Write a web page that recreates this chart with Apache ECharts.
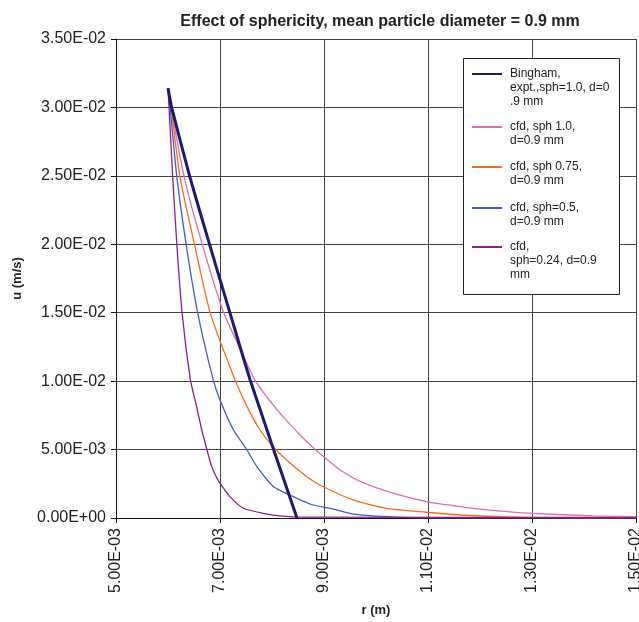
<!DOCTYPE html>
<html>
<head>
<meta charset="utf-8">
<script src="https://cdn.jsdelivr.net/npm/echarts@6/dist/echarts.min.js"></script>
<style>
html,body{margin:0;padding:0;background:#fff;}
#chart{width:639px;height:622px;}
</style>
</head>
<body>
<div id="chart"></div>
<script>
// ---- data (r in m, u in m/s) ----
const seriesNames = [
  'Bingham,\nexpt.,sph=1.0, d=0\n.9 mm',
  'cfd, sph 1.0,\nd=0.9 mm',
  'cfd, sph 0.75,\nd=0.9 mm',
  'cfd, sph=0.5,\nd=0.9 mm',
  'cfd,\nsph=0.24, d=0.9\nmm'
];
const rBingham = [0.00600, 0.00607, 0.00642, 0.00680, 0.00719, 0.00758, 0.00848];
const uBingham = [0.03141, 0.03000, 0.02493, 0.01998, 0.01501, 0.01009, 0.00000];

const rSph100 = [0.00600, 0.00606, 0.00631, 0.00666, 0.00707, 0.00737, 0.00767, 0.00796, 0.00825, 0.00854, 0.00879, 0.00900, 0.00931, 0.00975, 0.01033, 0.01097, 0.01161, 0.01219, 0.01302, 0.01417, 0.01500];
const uSph100 = [0.03141, 0.03000, 0.02493, 0.01998, 0.01501, 0.01250, 0.01009, 0.00855, 0.00724, 0.00607, 0.00515, 0.00446, 0.00351, 0.00258, 0.00181, 0.00119, 0.00083, 0.00058, 0.00034, 0.00015, 0.00010];

const rSph075 = [0.00600, 0.00606, 0.00623, 0.00651, 0.00681, 0.00729, 0.00752, 0.00777, 0.00800, 0.00828, 0.00867, 0.00892, 0.00956, 0.01020, 0.01097, 0.01161, 0.01238, 0.01301, 0.01500];
const uSph075 = [0.03141, 0.03000, 0.02493, 0.01998, 0.01501, 0.01009, 0.00814, 0.00643, 0.00530, 0.00424, 0.00302, 0.00241, 0.00132, 0.00071, 0.00042, 0.00022, 0.00010, 0.00005, 0.00003];

const rSph050 = [0.00600, 0.00604, 0.00617, 0.00635, 0.00657, 0.00687, 0.00700, 0.00726, 0.00752, 0.00771, 0.00803, 0.00848, 0.00879, 0.00912, 0.00956, 0.01020, 0.01084, 0.01500];
const uSph050 = [0.03141, 0.03000, 0.02493, 0.01998, 0.01501, 0.01009, 0.00863, 0.00643, 0.00497, 0.00375, 0.00229, 0.00144, 0.00095, 0.00071, 0.00029, 0.00010, 0.00002, 0.00001];

const rSph024 = [0.00600, 0.00602, 0.00609, 0.00617, 0.00627, 0.00643, 0.00652, 0.00665, 0.00675, 0.00683, 0.00692, 0.00700, 0.00719, 0.00745, 0.00783, 0.00815, 0.00848, 0.01500];
const uSph024 = [0.03141, 0.03000, 0.02493, 0.01998, 0.01501, 0.01009, 0.00863, 0.00643, 0.00497, 0.00387, 0.00307, 0.00254, 0.00156, 0.00071, 0.00034, 0.00015, 0.00007, 0.00002];

const xTickLabels = ['5.00E-03', '7.00E-03', '9.00E-03', '1.10E-02', '1.30E-02', '1.50E-02'];
const yTickLabels = ['0.00E+00', '5.00E-03', '1.00E-02', '1.50E-02', '2.00E-02', '2.50E-02', '3.00E-02', '3.50E-02'];
const xMin = 0.005, xMax = 0.015, xStep = 0.002;
const yMin = 0, yMax = 0.035, yStep = 0.005;

// ---- chart ----
const FONT = 'Liberation Sans, Arial, Helvetica, sans-serif';
const colors = ['#1e1b6e', '#e06ab4', '#fa6a1e', '#3d5fc0', '#931c8c'];
const widths = [3, 1.3, 1.3, 1.3, 1.3];
const rs = [rBingham, rSph100, rSph075, rSph050, rSph024];
const us = [uBingham, uSph100, uSph075, uSph050, uSph024];

const series = seriesNames.map((name, k) => ({
  name: name,
  type: 'line',
  data: rs[k].map((r, i) => [r, us[k][i]]),
  showSymbol: false,
  symbol: 'none',
  smooth: 0.2,
  lineStyle: { color: colors[k], width: widths[k] },
  itemStyle: { color: colors[k] },
  z: k === 0 ? 3 : 2,
  animation: false
}));

// one legend per entry so each multi-line label sits with its line sample on the first line
const legendFirstLineY = [74, 127, 167, 208, 247];
const LH = 14;
const legends = seriesNames.map((name, k) => {
  const n = name.split('\n').length;
  const P = LH * (n - 1);
  return {
    orient: 'vertical',
    left: 471,
    top: legendFirstLineY[k] - LH / 2 - P,
    padding: 0,
    itemWidth: 30,
    itemHeight: LH,
    itemGap: 0,
    selectedMode: false,
    z: 5,
    itemStyle: { opacity: 0 },
    formatter: nm => '\n'.repeat(n - 1) + nm,
    data: [{ name: name }],
    textStyle: { fontFamily: FONT, fontSize: 12, lineHeight: LH, color: '#222', padding: [0, 0, 0, 3] }
  };
});

const chart = echarts.init(document.getElementById('chart'), null, { renderer: 'canvas' });
chart.setOption({
  animation: false,
  backgroundColor: '#fff',
  title: {
    text: 'Effect of sphericity, mean particle diameter = 0.9 mm',
    left: 380,
    top: 14,
    padding: 0,
    textAlign: 'center',
    textStyle: { fontFamily: FONT, fontSize: 16, fontWeight: 'bold', color: '#222' }
  },
  grid: { left: 116, right: 3, top: 39, bottom: 104, containLabel: false, outerBoundsMode: 'none' },
  legend: legends,
  graphic: [{
    type: 'rect',
    left: 463, top: 58, z: 3,
    shape: { width: 156, height: 236 },
    style: { fill: '#fff', stroke: '#222', lineWidth: 1 }
  }],
  xAxis: {
    type: 'value',
    min: xMin, max: xMax, interval: xStep,
    name: 'r (m)',
    nameLocation: 'middle',
    nameGap: 86,
    nameTextStyle: { fontFamily: FONT, fontSize: 13, fontWeight: 'bold', color: '#222' },
    axisLine: { show: true, onZero: false, lineStyle: { color: '#111', width: 1 } },
    axisTick: { show: true, inside: false, length: 5, lineStyle: { color: '#111' } },
    axisLabel: {
      rotate: 90, margin: 10, hideOverlap: false,
      fontFamily: FONT, fontSize: 16, color: '#222',
      formatter: v => xTickLabels[Math.round((v - xMin) / xStep)] || ''
    },
    splitLine: { show: true, lineStyle: { color: '#444', width: 1 } }
  },
  yAxis: {
    type: 'value',
    min: yMin, max: yMax, interval: yStep,
    name: 'u (m/s)',
    nameLocation: 'middle',
    nameRotate: 90,
    nameGap: 92,
    nameTextStyle: { fontFamily: FONT, fontSize: 13, fontWeight: 'bold', color: '#222' },
    axisLine: { show: true, lineStyle: { color: '#111', width: 1 } },
    axisTick: { show: true, inside: false, length: 5, lineStyle: { color: '#111' } },
    axisLabel: {
      margin: 10,
      fontFamily: FONT, fontSize: 16, color: '#222',
      formatter: v => yTickLabels[Math.round((v - yMin) / yStep)] || ''
    },
    splitLine: { show: true, lineStyle: { color: '#444', width: 1 } }
  },
  series: series
});
</script>
</body>
</html>
